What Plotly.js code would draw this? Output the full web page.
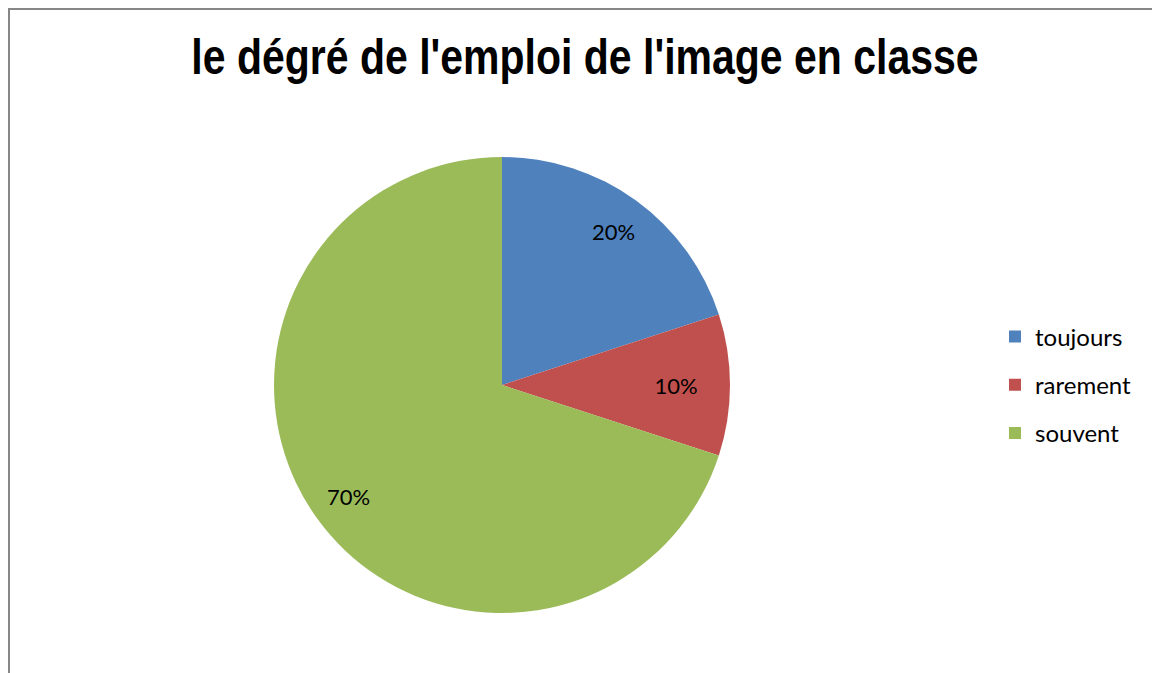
<!DOCTYPE html>
<html><head><meta charset="utf-8">
<script src="https://cdn.plot.ly/plotly-3.0.1.min.js"></script>
<style>
html,body{margin:0;padding:0;background:#fff;overflow:hidden;}
#frame{position:absolute;left:8px;top:8px;width:1160px;height:700px;border:2px solid #878787;box-sizing:border-box;}
#chart{position:absolute;left:0;top:0;width:1152px;height:673px;}
</style></head>
<body>
<div id="frame"></div>
<div id="chart"></div>
<script>
const categories = ["toujours", "rarement", "souvent"];
const values = [20, 10, 70];
const colors = ["#4F81BD", "#C0504D", "#9BBB59"];
const titleText = "le dégré de l'emploi de l'image en classe";

const W = 1152, H = 673;
const dom = {x: [274 / W, 730 / W], y: [1 - 613 / H, 1 - 157 / H]};
const labelFont = {family: "Lato, 'Open Sans', sans-serif", size: 22, color: "#000"};
const titleX = 585;

// slices whose label fits are placed at mid-angle (Excel style), others inside by Plotly
const total = values.reduce((a, b) => a + b, 0);
const annotations = [];
const texts = [];
let cum = 0;
values.forEach((v, i) => {
  const mid = (cum + v / 2) / total * 2 * Math.PI;
  cum += v;
  const pct = Math.round(v / total * 100) + "%";
  if (v / total >= 0.15) {
    texts.push("");
    const cx = (dom.x[0] + dom.x[1]) / 2, cy = (dom.y[0] + dom.y[1]) / 2;
    const rx = (dom.x[1] - dom.x[0]) / 2, ry = (dom.y[1] - dom.y[0]) / 2;
    annotations.push({xref: "paper", yref: "paper", x: cx + 0.83 * rx * Math.sin(mid), y: cy + 0.83 * ry * Math.cos(mid),
      text: pct, showarrow: false, xanchor: "center", yanchor: "middle", font: labelFont});
  } else {
    texts.push(pct);
  }
});

const pie = {
  type: "pie",
  labels: categories,
  values: values,
  sort: false,
  direction: "clockwise",
  rotation: 0,
  marker: {colors: colors, line: {width: 0}},
  text: texts,
  textinfo: "text",
  textposition: "inside",
  insidetextorientation: "horizontal",
  textfont: labelFont,
  showlegend: false,
  domain: dom
};
const legendTraces = categories.map((c, i) => ({
  type: "scatter", mode: "markers", x: [null], y: [null], name: c,
  legendgroup: c, showlegend: true,
  marker: {symbol: "square", size: 12, color: colors[i]}
}));

const layout = {
  width: W, height: H,
  margin: {l: 0, r: 0, t: 0, b: 0},
  paper_bgcolor: "rgba(0,0,0,0)",
  plot_bgcolor: "rgba(0,0,0,0)",
  xaxis: {visible: false}, yaxis: {visible: false},
  annotations: annotations,
  title: {text: "<b>" + titleText + "</b>", x: titleX / W, xanchor: "center", y: 1 - 57 / H, yanchor: "middle",
    font: {family: "'Liberation Sans', Arial, sans-serif", size: 50, color: "#000"}},
  showlegend: true,
  legend: {x: 995 / W, xanchor: "left", y: 1 - 385 / H, yanchor: "middle",
    font: {family: "Lato, 'Open Sans', sans-serif", size: 24, color: "#000"},
    itemwidth: 30, tracegroupgap: 14, bgcolor: "rgba(0,0,0,0)", itemsizing: "constant"}
};
Plotly.newPlot("chart", [pie].concat(legendTraces), layout, {displayModeBar: false, staticPlot: true}).then(gd => {
  // emulate a narrow (condensed) bold title face
  const t = gd.querySelector(".gtitle");
  if (t) t.setAttribute("transform", "translate(" + titleX + ",0) scale(0.82,1) translate(" + (-titleX) + ",0)");
});
</script>
</body></html>
